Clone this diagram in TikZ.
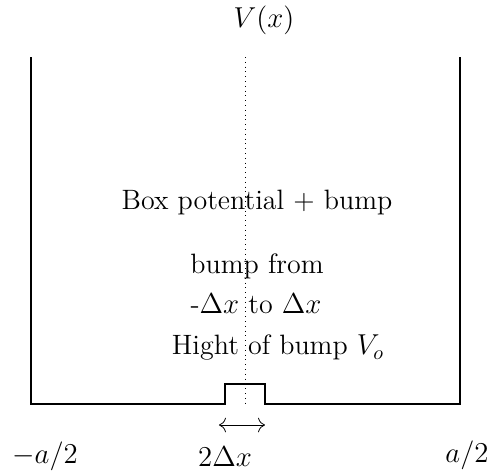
\documentclass[tikz,border=0pt]{standalone}
\usepackage{amsmath,amsfonts,amssymb}
\usetikzlibrary{positioning,arrows.meta}

\begin{document}
\begin{tikzpicture}[%
        x=0.5pt,y=-0.5pt,
        wall/.style={line width=0.6pt},
        label/.style={inner sep=1pt,font=\fontsize{14}{16.8}\selectfont}
      ]
      \useasboundingbox (0,0) rectangle (489,472);
      % box walls and bump
      \coordinate (tl) at (31,57);
      \coordinate (bl) at (31,404);
      \coordinate (b1) at (225,404);
      \coordinate (t1) at (225,384);
      \coordinate (t2) at (265,384);
      \coordinate (b2) at (265,404);
      \coordinate (br) at (460,404);
      \coordinate (tr) at (460,57);
      \draw[wall] (tl) -- (bl) -- (b1) -- (t1) -- (t2) -- (b2) -- (br) -- (tr);
      % axis
      \coordinate (ax1) at (245,57);
      \coordinate (ax2) at (245,404);
      \draw[dotted] (ax1) -- (ax2);
      \coordinate (w1) at (219,425);
      \coordinate (w2) at (265,425);
      \draw[{To[scale=1.4]}-{To[scale=1.4]}] (w1) -- (w2);

      \node[label] (v) at (264,20) {$V(x)$};
      \node[label] (box) at (257,202) {Box potential + bump};
      \node[label] (from) at (257,266) {bump from};
      \node[label] (to) at (256,304) {-$\Delta x$ to $\Delta x$};
      \node[label] (hight) at (278,348) {Hight of bump $V_o$};
      \node[label] (la) at (45,456) {$-a/2$};
      \node[label] (w) at (225,457) {$2\Delta x$};
      \node[label] (ra) at (467,455) {$a/2$};
\end{tikzpicture}
\end{document}
